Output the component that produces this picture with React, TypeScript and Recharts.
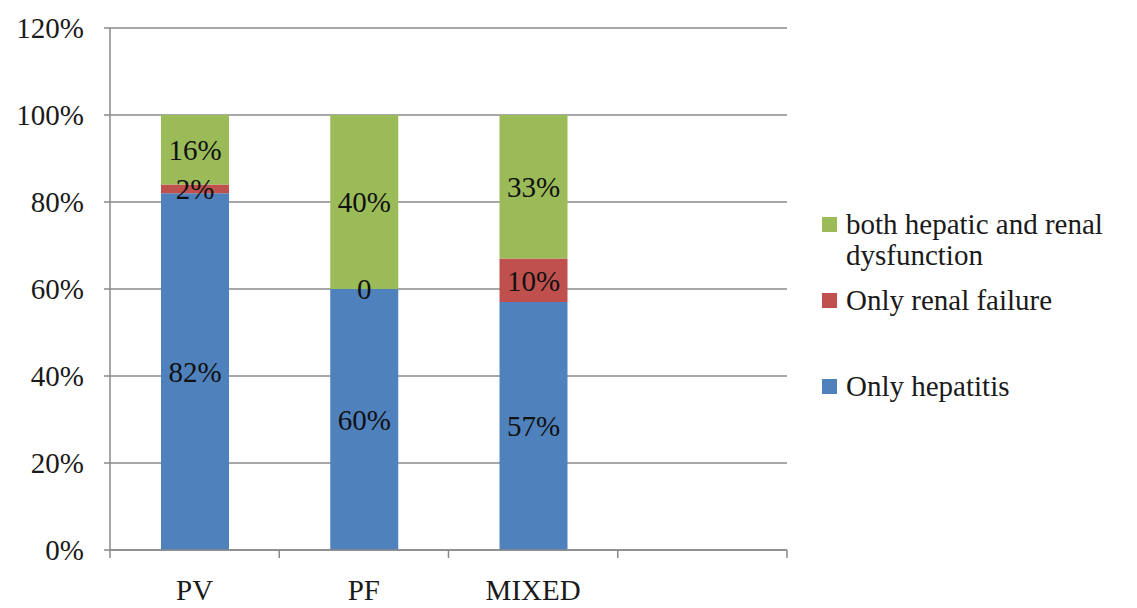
import React from "react";
import { BarChart, Bar, XAxis, YAxis, CartesianGrid, Legend, LabelList } from "recharts";

const categories = ["PV", "PF", "MIXED", ""];
const onlyHepatitis = [82, 60, 57, null];
const onlyRenal = [2, 0, 10, null];
const bothDysfunction = [16, 40, 33, null];
const yTicks = [0, 20, 40, 60, 80, 100, 120];

const data = categories.map((name, i) => ({
  name,
  hep: onlyHepatitis[i],
  renal: onlyRenal[i],
  both: bothDysfunction[i],
}));

const FONT = "Liberation Serif, DejaVu Serif, Times New Roman, serif";
const GRID = "#8a8a8a";
const W = 1137;
const H = 608;
const PLOT_LEFT = 110;
const PLOT_RIGHT = 787;
const SLOT = (PLOT_RIGHT - PLOT_LEFT) / categories.length;

const fmt = (v: any) => (v === 0 ? "0" : v == null ? "" : `${v}%`);

function CategoryTick(props: any) {
  const { x, y, payload, index } = props;
  const last = index === categories.length - 1;
  return (
    <g>
      <line x1={x - SLOT / 2} x2={x - SLOT / 2} y1={y} y2={y + 8} stroke={GRID} strokeWidth={1.5} />
      {last && <line x1={x + SLOT / 2} x2={x + SLOT / 2} y1={y} y2={y + 8} stroke={GRID} strokeWidth={1.5} />}
      <text x={x} y={y + 50} textAnchor="middle" fontFamily={FONT} fontSize={29} fill="#1a1a1a">
        {payload.value}
      </text>
    </g>
  );
}

function LegendBox(props: any) {
  const items = [...(props.payload || [])].reverse();
  const gaps = [0, 14, 55];
  return (
    <div style={{ fontFamily: FONT, fontSize: 29, color: "#1a1a1a", lineHeight: "31px" }}>
      {items.map((it: any, i: number) => (
        <div key={it.value} style={{ display: "flex", alignItems: "flex-start", marginTop: gaps[i] }}>
          <span
            style={{
              width: 15,
              height: 15,
              background: it.color,
              marginTop: 8,
              marginRight: 9,
              flex: "none",
            }}
          />
          <span style={{ width: 290 }}>{it.value}</span>
        </div>
      ))}
    </div>
  );
}

// a zero renal segment keeps a hairline height so its "0" label is still drawn
const keepZero = (_v: any, i: number) => (onlyRenal[i] === 0 ? 0.01 : 0);

export default function App() {
  return (
    <div style={{ position: "absolute", left: 0, top: 0, width: W, height: H, background: "#fff" }}>
      <BarChart width={W} height={H} data={data} margin={{ top: 28, right: 35, bottom: 8, left: 0 }}>
        <CartesianGrid vertical={false} stroke={GRID} strokeWidth={1.5} />
        <YAxis
          width={PLOT_LEFT}
          domain={[0, 120]}
          ticks={yTicks}
          tickFormatter={(v: number) => `${v}%`}
          axisLine={{ stroke: GRID, strokeWidth: 1.5 }}
          tickLine={{ stroke: GRID, strokeWidth: 1.5 }}
          tickSize={6}
          tickMargin={20}
          tick={{ fontFamily: FONT, fontSize: 29, fill: "#1a1a1a" }}
        />
        <XAxis
          dataKey="name"
          height={50}
          interval={0}
          tickLine={false}
          tickSize={0}
          tickMargin={0}
          axisLine={{ stroke: GRID, strokeWidth: 1.5 }}
          tick={<CategoryTick />}
        />
        <Legend
          layout="vertical"
          align="right"
          verticalAlign="top"
          wrapperStyle={{ left: 822, top: 209, width: 315 }}
          content={<LegendBox />}
        />
        <Bar dataKey="hep" name="Only hepatitis" stackId="s" fill="#4F81BD" barSize={68} isAnimationActive={false}>
          <LabelList dataKey="hep" position="center" formatter={fmt} fill="#111" fontFamily={FONT} fontSize={29} />
        </Bar>
        <Bar
          dataKey="renal"
          name="Only renal failure"
          stackId="s"
          fill="#C0504D"
          barSize={68}
          minPointSize={keepZero}
          isAnimationActive={false}
        >
          <LabelList dataKey="renal" position="center" formatter={fmt} fill="#111" fontFamily={FONT} fontSize={29} />
        </Bar>
        <Bar
          dataKey="both"
          name="both hepatic and renal dysfunction"
          stackId="s"
          fill="#9BBB59"
          barSize={68}
          isAnimationActive={false}
        >
          <LabelList dataKey="both" position="center" formatter={fmt} fill="#111" fontFamily={FONT} fontSize={29} />
        </Bar>
      </BarChart>
    </div>
  );
}
